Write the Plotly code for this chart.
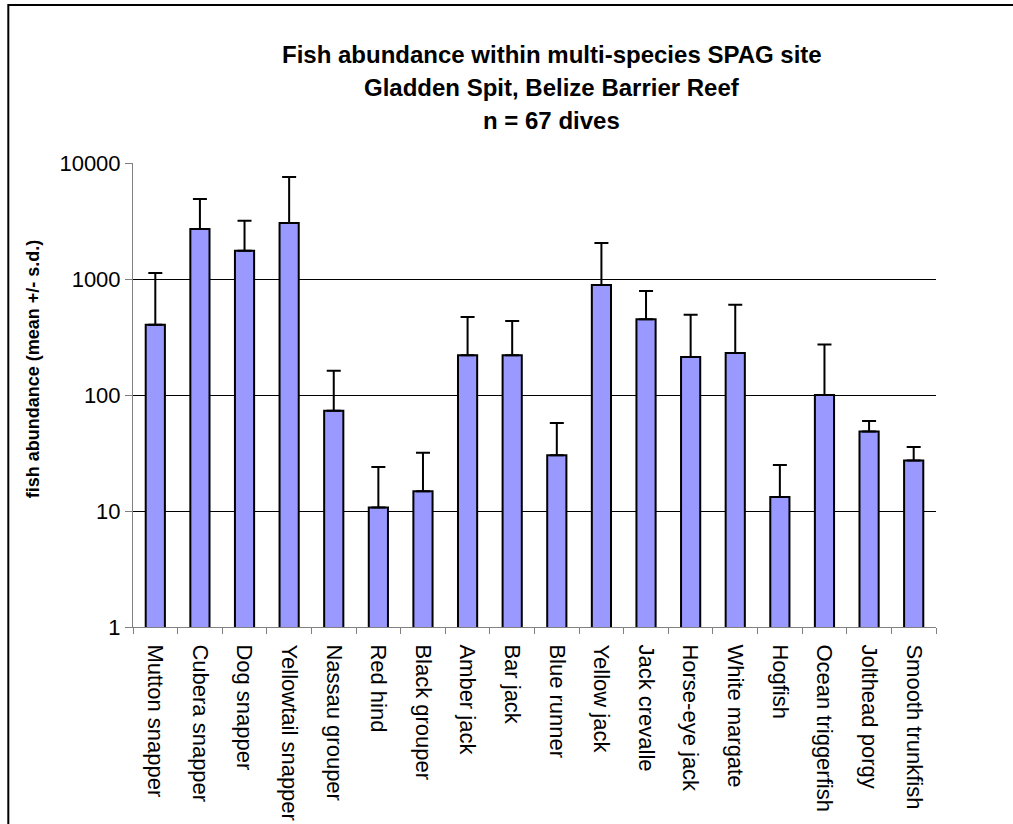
import plotly.graph_objects as go

species = ["Mutton snapper", "Cubera snapper", "Dog snapper", "Yellowtail snapper",
           "Nassau grouper", "Red hind", "Black grouper", "Amber jack", "Bar jack",
           "Blue runner", "Yellow jack", "Jack crevalle", "Horse-eye jack",
           "White margate", "Hogfish", "Ocean triggerfish", "Jolthead porgy",
           "Smooth trunkfish"]
mean_abundance = [404, 2700, 1750, 3040, 73, 10.7, 14.8, 220, 220, 30.2, 888, 449,
                  213, 230, 13.2, 100, 48.5, 27.2]
sd_abundance = [723, 2194, 1434, 4530, 89, 13.2, 17.0, 250, 214, 27.2, 1155, 339,
                279, 370, 11.7, 172, 11.2, 8.4]

title_lines = ["Fish abundance within multi-species SPAG site",
               "Gladden Spit, Belize Barrier Reef",
               "n = 67 dives"]
y_title = "fish abundance (mean +/- s.d.)"

fig = go.Figure()
fig.add_trace(go.Bar(
    x=species,
    y=mean_abundance,
    marker={'color': '#9999FF', 'line': {'color': 'black', 'width': 2}},
    error_y={'type': 'data', 'array': sd_abundance, 'symmetric': False,
             'arrayminus': [0] * len(sd_abundance),
             'color': 'black', 'thickness': 2, 'width': 7},
    width=0.43,
))

font = "Liberation Sans, Arial, sans-serif"
# plot area is 805 x 464 px, starting at (133, 163) from top-left
for i, line in enumerate(title_lines):
    fig.add_annotation(
        text="<b>%s</b>" % line, x=(553 - 133) / 805, y=(627 - 54 - 33 * i) / 464,
        xref="paper", yref="paper", xanchor="center", yanchor="middle",
        showarrow=False, font={'size': 24, 'color': 'black', 'family': font},
    )
fig.add_annotation(
    text="<b>%s</b>" % y_title, x=(33 - 133) / 805, y=(627 - 369) / 464,
    xref="paper", yref="paper", xanchor="center", yanchor="middle",
    textangle=-90, showarrow=False,
    font={'size': 18, 'color': 'black', 'family': font},
)
# chart border
fig.add_shape(type="rect", xref="paper", yref="paper",
              x0=(8 - 133) / 805, x1=1.2, y0=-0.5, y1=(627 - 5) / 464,
              line={'color': 'black', 'width': 2}, layer="below")

fig.update_layout(
    width=1013, height=824,
    margin={'l': 133, 'r': 77, 't': 163, 'b': 197},
    plot_bgcolor="white", paper_bgcolor="white",
    showlegend=False,
    font={'family': font, 'size': 22, 'color': 'black'},
    xaxis={'tickangle': 90, 'showline': True, 'linecolor': '#808080', 'linewidth': 1,
           'ticks': 'outside', 'tickson': 'boundaries', 'ticklen': 6,
           'tickcolor': '#808080', 'showgrid': False, 'automargin': False,
           'ticklabelstandoff': 12, 'tickfont': {'size': 22}},
    yaxis={'type': 'log', 'range': [0, 4], 'tickvals': [1, 10, 100, 1000, 10000],
           'ticktext': ['1', '10', '100', '1000', '10000'],
           'showline': True, 'linecolor': '#808080', 'linewidth': 1,
           'ticks': 'outside', 'ticklen': 7, 'tickcolor': '#808080',
           'showgrid': True, 'gridcolor': 'black', 'gridwidth': 1,
           'zeroline': False, 'automargin': False, 'tickfont': {'size': 22}},
)

fig.write_html("out.html", config={'displayModeBar': False},
               post_script="document.body.style.margin = '0';")
